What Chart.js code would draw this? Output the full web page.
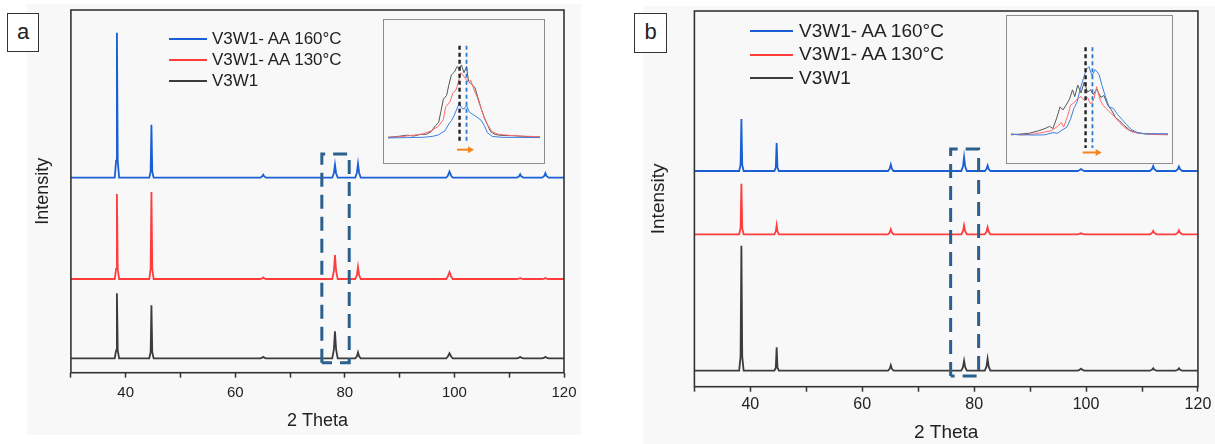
<!DOCTYPE html>
<html>
<head>
<meta charset="utf-8">
<script src="https://cdn.jsdelivr.net/npm/chart.js@4.4.1/dist/chart.umd.min.js"></script>
<style>
  body { margin: 0; width: 1215px; height: 444px; position: relative; background: #fff; overflow: hidden;
         font-family: "Liberation Sans", Arial, sans-serif; }
  .bg { position: absolute; background: #f8f8f8; }
  .tag { position: absolute; border: 1.5px solid #333; background: #fff; box-sizing: border-box;
         text-align: center; color: #222; }
  canvas { position: absolute; }
  .inset { position: absolute; border: 1px solid #8c8c8c; box-sizing: border-box; }
  .inset canvas { left: 0; top: 0; }
  .leg-line { position: absolute; height: 2px; }
  .leg-text { position: absolute; color: #222; white-space: nowrap; }
</style>
</head>
<body>
<div class="bg" style="left:27px;top:4px;width:554px;height:431px"></div>
<div class="bg" style="left:643px;top:6px;width:572px;height:438px"></div>
<canvas id="chartA" width="600" height="444" style="left:0;top:0"></canvas>
<canvas id="chartB" width="615" height="444" style="left:600px;top:0"></canvas>
<div class="tag" style="left:7px;top:13px;width:32px;height:39px;font-size:22px;line-height:35px">a</div>
<div class="tag" style="left:634px;top:13px;width:33px;height:40px;font-size:22px;line-height:36px">b</div>
<div class="inset" style="left:383px;top:19px;width:162px;height:145px"><canvas id="insetA" width="160" height="143"></canvas></div>
<div class="inset" style="left:1006px;top:15px;width:167px;height:149px"><canvas id="insetB" width="165" height="147"></canvas></div>
<div id="legendA"></div>
<div id="legendB"></div>

<script>
// ---- data ----
const seriesLabels = ["V3W1- AA 160°C", "V3W1- AA 130°C", "V3W1"];
const xTickLabels = [40, 60, 80, 100, 120];

// 2 theta positions (shared by both panels)
const angles = [30,
  38.0, 38.25, 38.4, 38.55, 38.8,
  44.3, 44.55, 44.7, 44.85, 45.1,
  64.6, 64.9, 65.1, 65.3, 65.6,
  77.7, 78.0, 78.2, 78.4, 78.7,
  81.9, 82.2, 82.4, 82.6, 82.9,
  98.5, 98.8, 99.1, 99.4, 99.7,
  111.4, 111.8, 112.0, 112.2, 112.6,
  116.0, 116.4, 116.6, 116.8, 117.2,
  120];

// panel a intensities (a.u., above each pattern's baseline)
const a_AA160 = [0, 0,17,145,17,0, 0,6,53,6,0, 0,1.2,3,1.2,0, 0,4.5,13,4.5,0, 0,5,14,5,0, 0,2,6,2,0, 0,1.4,3.5,1.4,0, 0,1.8,4.5,1.8,0, 0];
const a_AA130 = [0, 0,10,85,10,0, 0,10,87,10,0, 0,0.6,1.5,0.6,0, 0,8,24,8,0, 0,4,12,4,0, 0,2.5,7,2.5,0, 0,0.4,1,0.4,0, 0,0.4,1,0.4,0, 0];
const a_V3W1  = [0, 0,8,65,8,0, 0,6,53,6,0, 0,0.6,1.5,0.6,0, 0,9,27,9,0, 0,2,6,2,0, 0,1.8,5,1.8,0, 0,0.6,1.5,0.6,0, 0,0.6,1.5,0.6,0, 0];
const a_offsets = [195, 93.7, 14.4];

// panel b intensities
const b_AA160 = [0, 0,6,52,6,0, 0,3.5,28,3.5,0, 0,2.2,6.5,2.2,0, 0,4.5,14,4.5,0, 0,2,5.5,2,0, 0,0.8,2,0.8,0, 0,2,5,2,0, 0,1.8,4.5,1.8,0, 0];
const b_AA130 = [0, 0,6,50.5,6,0, 0,3,9,3,0, 0,1.8,5,1.8,0, 0,3,9,3,0, 0,2.5,7,2.5,0, 0,0.4,1,0.4,0, 0,1.4,3.5,1.4,0, 0,1.6,4,1.6,0, 0];
const b_V3W1  = [0, 0,14,125,14,0, 0,3,23.5,3,0, 0,1.8,5.5,1.8,0, 0,3.5,10,3.5,0, 0,4,12,4,0, 0,0.8,2,0.8,0, 0,1,2.5,1,0, 0,1,2.5,1,0, 0];
const b_offsets = [215.7, 152.4, 16];

// dashed zoom window around the 78° peak
const zoomBoxA = [[75.8,10],[75.8,218.7],[80.8,218.7],[80.8,10],[75.8,10]];
const zoomBoxB = [[75.8,10.7],[75.8,237.7],[80.8,237.7],[80.8,10.7],[75.8,10.7]];

// inset a: [2theta, intensity]
const insetA_V3W1 = [[76.00,0],[76.32,1],[76.61,2.3],[76.81,1.3],[77.01,3],[77.21,3.3],[77.36,6],[77.50,12.7],[77.60,16],
  [77.68,29.3],[77.75,41],[77.85,45],[77.92,56],[78.00,67],[78.10,70.3],[78.18,76],[78.25,73.7],[78.32,77.7],[78.40,69.3],
  [78.48,76],[78.54,60.3],[78.64,57],[78.74,53.7],[78.84,42.7],[78.94,31],[79.04,21],[79.14,13.7],[79.24,6],[79.39,3],
  [79.58,2],[79.98,1.7],[80.28,1],[80.80,0.3]];
const insetA_AA130 = [[76.00,0],[76.42,0.7],[76.81,2.3],[77.11,3.7],[77.36,7],[77.60,12],[77.75,19.3],[77.82,32.7],[77.95,37.7],
  [78.05,47.7],[78.15,51],[78.22,59.3],[78.30,69.3],[78.37,67],[78.45,62.7],[78.54,59.3],[78.61,61.7],[78.71,51.7],[78.81,43.7],
  [78.91,33.7],[79.01,24.3],[79.14,13.7],[79.29,6],[79.48,3.3],[79.78,2.3],[80.18,1.3],[80.80,0.7]];
const insetA_AA160 = [[76.00,-0.7],[76.61,-0.3],[77.11,0],[77.41,1],[77.60,2.7],[77.80,7],[77.92,14.3],[78.00,17.7],[78.08,22.7],
  [78.16,29.3],[78.25,36.7],[78.32,31.7],[78.40,30.3],[78.48,34.3],[78.57,27],[78.69,24.3],[78.81,21.7],[78.94,18.3],[79.04,12.7],
  [79.14,5],[79.29,1],[79.58,0],[80.80,-0.3]];
const insetA_marks = { before: 78.26, after: 78.48, top: 98.3, bottom: -6.3, arrow: [78.18, 78.59, -13.3] };

// inset b
const insetB_V3W1 = [[76.00,0],[76.27,0.7],[76.56,1.7],[76.84,4.3],[77.04,6.7],[77.18,9],[77.28,6.7],[77.40,18.3],[77.50,30],
  [77.59,26.7],[77.68,31.7],[77.79,38.3],[77.88,48.3],[77.95,41],[78.04,53.3],[78.14,45],[78.24,56.7],[78.34,45.7],[78.43,48.3],
  [78.52,43.3],[78.62,49],[78.75,40],[78.84,42.3],[78.96,31.7],[79.07,26.7],[79.20,18.3],[79.32,15],[79.46,10],[79.63,5],
  [79.82,2.3],[80.11,1],[80.80,0.7]];
const insetB_AA130 = [[76.00,1],[76.27,-0.3],[76.65,0.7],[76.94,2.3],[77.23,4.3],[77.42,9],[77.54,13.3],[77.61,8.3],[77.73,20],
  [77.82,31.7],[77.95,35],[78.04,39],[78.14,41],[78.24,36.7],[78.34,40],[78.43,33.3],[78.52,36.7],[78.62,51.7],[78.72,38.3],
  [78.81,31.7],[78.91,28.3],[79.00,25],[79.15,20],[79.32,13.3],[79.48,7.7],[79.68,3.3],[79.92,1.7],[80.30,0.3],[80.80,0]];
const insetB_AA160 = [[76.00,0.7],[76.36,0],[76.75,-0.3],[77.04,0],[77.28,2.3],[77.42,1.7],[77.56,5],[77.71,8.3],[77.82,16.7],
  [77.92,28.3],[78.02,35],[78.11,48.3],[78.21,60],[78.30,70],[78.38,73.3],[78.48,63.3],[78.57,70],[78.69,65],[78.78,53.3],
  [78.88,41.7],[79.00,30],[79.13,28.3],[79.26,21.7],[79.39,16.7],[79.53,11],[79.68,5.7],[79.87,2.3],[80.11,1],[80.80,1]];
const insetB_marks = { before: 78.28, after: 78.49, top: 94, bottom: -14.3, arrow: [78.19, 78.65, -19] };

// ---- styling ----
const FONT = '"Liberation Sans", Arial, sans-serif';
const mainColors = ["#1a5fd3", "#ff3d3d", "#3c3c3c"];
const insetColors = ["#3a80e0", "#ff6a6a", "#555555"];

// box around the plotting area
const framePlugin = {
  id: "frame",
  afterDraw(chart) {
    const { ctx, chartArea: c } = chart;
    ctx.save();
    ctx.strokeStyle = "#333";
    ctx.lineWidth = 1.6;
    ctx.strokeRect(c.left, c.top, c.right - c.left, c.bottom - c.top);
    ctx.restore();
  }
};

function stacked(values, offset) {
  return angles.map((a, i) => ({ x: a, y: values[i] + offset }));
}

function renderPanel(id, series, offsets, box, p) {
  const datasets = [{
    data: box.map(([x, y]) => ({ x, y })),
    borderColor: "#2b5f8e", borderWidth: 3, borderDash: [14, 8], pointRadius: 0
  }];
  series.forEach((s, i) => {
    datasets.push({
      label: seriesLabels[i],
      data: stacked(s, offsets[i]),
      borderColor: mainColors[i], borderWidth: 1.8, pointRadius: 0
    });
  });

  new Chart(document.getElementById(id), {
    type: "line",
    data: { datasets },
    plugins: [framePlugin],
    options: {
      responsive: false, animation: false, devicePixelRatio: 1,
      layout: { padding: { left: 0, right: p.padRight, top: p.padTop, bottom: 0 } },
      plugins: { legend: { display: false }, tooltip: { enabled: false } },
      elements: { line: { tension: 0 } },
      scales: {
        x: {
          type: "linear", min: 30, max: 120,
          ticks: {
            stepSize: 10, autoSkip: false, maxRotation: 0, padding: p.tickPad, color: "#222",
            font: { family: FONT, size: p.tickSize },
            callback: v => xTickLabels.includes(v) ? String(v) : ""
          },
          grid: { display: true, drawOnChartArea: false, tickLength: 5, tickWidth: 1.5, tickColor: "#333" },
          border: { display: false },
          title: { display: true, text: "2 Theta", color: "#222", font: { family: FONT, size: p.titleSize },
                   padding: { top: 0, bottom: p.xTitlePad } },
          afterFit: s => { s.height = p.xHeight; }
        },
        y: {
          type: "linear", min: 0, max: p.yMax,
          ticks: { display: false },
          grid: { display: false },
          border: { display: false },
          title: { display: true, text: "Intensity", color: "#222", font: { family: FONT, size: p.titleSize },
                   padding: { top: p.yTitlePad, bottom: 0 } },
          afterFit: s => { s.width = p.yWidth; }
        }
      }
    }
  });
}

function renderInset(id, curves, marks, yMin, yMax) {
  const datasets = [
    { data: [{ x: marks.before, y: marks.top }, { x: marks.before, y: marks.bottom }],
      borderColor: "#222", borderWidth: 2.4, borderDash: [4, 3], pointRadius: 0 },
    { data: [{ x: marks.after, y: marks.top }, { x: marks.after, y: marks.bottom }],
      borderColor: "#2a7ad0", borderWidth: 1.8, borderDash: [4, 3], pointRadius: 0 },
    { data: [{ x: marks.arrow[0], y: marks.arrow[2] }, { x: marks.arrow[1], y: marks.arrow[2] }],
      borderColor: "#f5851f", backgroundColor: "#f5851f", borderWidth: 2,
      pointRadius: [0, 4], pointStyle: "triangle", rotation: 90, pointBorderWidth: 0 }
  ];
  // draw order: blue on top of red on top of black
  [0, 1, 2].forEach(i => {
    datasets.push({
      data: curves[i].map(([x, y]) => ({ x, y })),
      borderColor: insetColors[i], borderWidth: 1, pointRadius: 0
    });
  });

  new Chart(document.getElementById(id), {
    type: "line",
    data: { datasets },
    options: {
      responsive: false, animation: false, devicePixelRatio: 1,
      layout: { padding: 0 },
      plugins: { legend: { display: false }, tooltip: { enabled: false } },
      elements: { line: { tension: 0 } },
      scales: {
        x: { type: "linear", display: false, min: 76, max: 80.8 },
        y: { type: "linear", display: false, min: yMin, max: yMax }
      }
    }
  });
}

function renderLegend(id, l) {
  const host = document.getElementById(id);
  seriesLabels.forEach((label, i) => {
    const y = l.top + i * l.gap;
    const line = document.createElement("div");
    line.className = "leg-line";
    line.style.cssText = `left:${l.x0}px;top:${y - 1}px;width:${l.x1 - l.x0}px;background:${mainColors[i]}`;
    const text = document.createElement("div");
    text.className = "leg-text";
    text.textContent = label;
    text.style.cssText = `left:${l.textX}px;top:${y - l.size * 0.6}px;font-size:${l.size}px;line-height:${l.size * 1.2}px`;
    host.appendChild(line);
    host.appendChild(text);
  });
}

renderPanel("chartA", [a_AA160, a_AA130, a_V3W1], a_offsets, zoomBoxA, {
  padRight: 36, padTop: 10, xHeight: 71.3, yWidth: 70.9, yMax: 362.7,
  tickSize: 15, titleSize: 18, tickPad: 6, xTitlePad: 12.5, yTitlePad: 31.9
});
renderPanel("chartB", [b_AA160, b_AA130, b_V3W1], b_offsets, zoomBoxB, {
  padRight: 12.3, padTop: 11, xHeight: 57.3, yWidth: 94.4, yMax: 375.7,
  tickSize: 16, titleSize: 19, tickPad: 3.7, xTitlePad: 0.3, yTitlePad: 46.9
});

renderInset("insetA", [insetA_AA160, insetA_AA130, insetA_V3W1], insetA_marks, -23.3, 121.7);
renderInset("insetB", [insetB_AA160, insetB_AA130, insetB_V3W1], insetB_marks, -26, 123.3);

renderLegend("legendA", { x0: 169, x1: 207, textX: 212, top: 39.3, gap: 21, size: 17 });
renderLegend("legendB", { x0: 750, x1: 793, textX: 799, top: 31, gap: 23.6, size: 19 });
</script>
</body>
</html>
